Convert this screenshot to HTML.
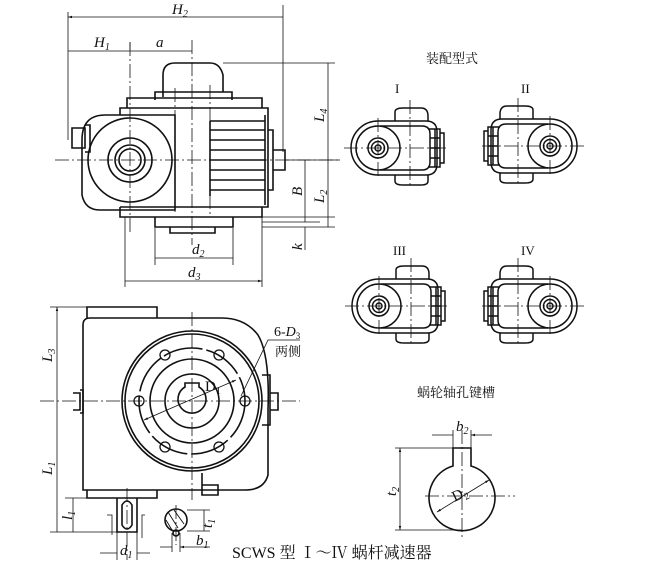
<!DOCTYPE html>
<html><head><meta charset="utf-8"><style>
html,body{margin:0;padding:0;background:#fff}
svg{display:block}
text{font-family:"Liberation Serif","Noto Serif CJK SC",serif;fill:#111}
.it{font-style:italic}
</style></head><body>
<svg width="646" height="574" viewBox="0 0 646 574" xmlns="http://www.w3.org/2000/svg">
<defs>
<marker id="a" viewBox="0 0 10 10" refX="10" refY="5" markerWidth="7" markerHeight="5" orient="auto-start-reverse"><path d="M0,2 L10,5 L0,8z" fill="#111"/></marker>
<g id="mini" fill="none" stroke="#111" stroke-width="1.5">
 <path d="M0,-27 H48 Q59,-27 59,-16 V16 Q59,27 48,27 H0 A27,27 0 0 1 0,-27z"/>
 <path d="M2,-22 H44 Q52,-22 52,-14 V14 Q52,22 44,22 H2"/>
 <circle r="22"/><circle r="10"/><circle r="6.5"/><circle r="3"/>
 <path d="M17,-27 V-36 Q17,-40 25,-40 H43 Q50,-40 50,-32 V-27"/>
 <path d="M17,27 V33 Q17,37 25,37 H43 Q50,37 50,33 V27"/>
 <path d="M50,-19 H62 V19 H50 M52,-10 H62 M52,0 H62 M52,10 H62 M57,-19 V19 M62,-15 H66 V15 H62"/>
 <path d="M-34,0 H70 M32,-48 V40 M0,-30 V30" stroke-width="0.8" stroke-dasharray="14,3,2,3"/>
</g>
</defs>
<g fill="none" stroke="#111" stroke-width="1.6">
<!-- top view -->
<path d="M163,97 V75 Q163,63 175,63 H210 Q220,63 223,75 V92 M155,100 V92 H232 V100 M127,108 V98 H262 V108 M120,115 V108 H268 V207 H120 M82,140 Q82,115 105,115 H175 V210 H100 Q85,210 82,195z"/>
<circle cx="130" cy="160" r="42"/><circle cx="130" cy="160" r="22"/><circle cx="130" cy="160" r="15"/><circle cx="130" cy="160" r="11"/>
<path d="M210,121 H265 M210,130 H265 M210,140 H265 M210,150 H265 M210,160 H265 M210,170 H265 M210,180 H265 M210,190 H265 M210,121 V196 M265,115 V205 M268,130 H273 V190 H268"/>
<path d="M273,150 H285 V170 H273 M72,128 H85 V148 H72z M85,125 H90 V152 H85"/>
<path d="M120,207 V217 H262 V207 M155,217 V227 H233 V217 M170,227 V233 H215 V227"/>
<path d="M55,160 H340 M130,42 V232 M192,40 V245 M175,88 V215 M210,85 V215" stroke-width="0.8" stroke-dasharray="14,3,2,3"/>
<path d="M68,12 V140 M283,5 V152 M130,42 V50 M223,63 H335 M285,160 H340 M262,217 H335 M262,222 H320 M262,227 H335 M155,228 V265 M233,228 V265 M125,217 V287 M262,217 V287" stroke-width="0.8"/>
<path d="M68,17 H283 M68,51 H130 M130,51 H192 M328,63 V160 M328,160 V227 M305,160 V222 M305,250 V227 M155,258 H233 M125,281 H262" stroke-width="0.8" marker-start="url(#a)" marker-end="url(#a)"/>
<!-- bottom view -->
<path d="M87,318 V307 H157 V318 M83,325 Q83,318 90,318 H222 Q245,318 258,335 Q270,355 268,410 V475 Q264,490 245,490 H83z M87,490 V498 H157 V490"/>
<circle cx="192" cy="401" r="70"/><circle cx="192" cy="401" r="67"/><circle cx="192" cy="401" r="53" stroke-dasharray="40,4"/><circle cx="192" cy="401" r="42"/><circle cx="192" cy="401" r="27"/>
<path d="M185,387 A14,14 0 1 0 199,387 V383 H185z"/>
<g stroke-width="1.3"><circle cx="139" cy="401" r="5"/><circle cx="245" cy="401" r="5"/><circle cx="165" cy="355" r="5"/><circle cx="219" cy="355" r="5"/><circle cx="165" cy="447" r="5"/><circle cx="219" cy="447" r="5"/></g>
<path d="M262,375 H270 V425 H262 M270,393 H278 V410 H270 M73,393 H80 V410 H73 M80,390 H83 V413 H80 M202,473 V485 M202,485 H218 V495 H202z"/>
<path d="M117,498 V532 H137 V498 M122,505 Q127,497 132,505 V525 Q127,533 122,525z"/>
<circle cx="176" cy="520" r="11"/><circle cx="176" cy="533" r="3"/>
<path d="M168,512 L178,528 M174,510 L184,524 M166,520 L172,530" stroke-width="0.9"/>
<path d="M40,401 H300 M192,312 V500 M127,488 V560 M176,505 V545" stroke-width="0.8" stroke-dasharray="14,3,2,3"/>
<path d="M50,307 H87 M50,532 H117 M65,498 H117 M187,510 H210 M187,531 H210 M117,532 V560 M137,532 V560 M172,533 V552 M180,533 V552 M107,515 H112 V535 M145,515 H142 V538 M241,396 L268,340 H300" stroke-width="0.8"/>
<path d="M57,307 V401 M57,401 V532 M73,498 V532 M204,510 V531 M100,553 H117 M150,553 H137 M160,547 H172 M210,547 H180" stroke-width="0.8" marker-start="url(#a)" marker-end="url(#a)"/>
<path d="M144,420 L236,380" stroke-width="0.8" marker-start="url(#a)" marker-end="url(#a)"/>
<!-- keyway -->
<path d="M453,448 V466 A33,33 0 1 0 471,466 V448z"/>
<path d="M425,496 H515 M462,430 V540" stroke-width="0.8" stroke-dasharray="14,3,2,3"/>
<path d="M395,448 H453 M395,530 H462 M453,430 V448 M471,430 V448" stroke-width="0.8"/>
<path d="M400,448 V530" stroke-width="0.8" marker-start="url(#a)" marker-end="url(#a)"/>
<path d="M432,435 H453 M492,435 H471" stroke-width="0.8" marker-end="url(#a)"/>
<path d="M437,512 L489,480" stroke-width="0.8" marker-start="url(#a)" marker-end="url(#a)"/>
</g>
<use href="#mini" x="378" y="148"/>
<use href="#mini" transform="translate(550,146) scale(-1,1)"/>
<use href="#mini" x="379" y="306"/>
<use href="#mini" transform="translate(550,306) scale(-1,1)"/>
<g font-size="15">
<text x="172" y="14" class="it">H<tspan font-size="10" dy="3">2</tspan></text>
<text x="94" y="47" class="it">H<tspan font-size="10" dy="3">1</tspan></text>
<text x="156" y="47" class="it">a</text>
<text x="192" y="254" class="it">d<tspan font-size="10" dy="3">2</tspan></text>
<text x="188" y="277" class="it">d<tspan font-size="10" dy="3">3</tspan></text>
<text transform="translate(324,122) rotate(-90)" class="it">L<tspan font-size="10" dy="3">4</tspan></text>
<text transform="translate(324,203) rotate(-90)" class="it">L<tspan font-size="10" dy="3">2</tspan></text>
<text transform="translate(302,196) rotate(-90)" class="it">B</text>
<text transform="translate(302,250) rotate(-90)" class="it">k</text>
<text transform="translate(52,362) rotate(-90)" class="it">L<tspan font-size="10" dy="3">3</tspan></text>
<text transform="translate(52,475) rotate(-90)" class="it">L<tspan font-size="10" dy="3">1</tspan></text>
<text transform="translate(72,520) rotate(-90)" class="it">l<tspan font-size="10" dy="3">1</tspan></text>
<text transform="translate(212,528) rotate(-90)" class="it">t<tspan font-size="10" dy="3">1</tspan></text>
<text x="120" y="555" class="it">d<tspan font-size="10" dy="3">1</tspan></text>
<text x="196" y="545" class="it">b<tspan font-size="10" dy="3">1</tspan></text>
<text x="205" y="391">D<tspan font-size="10" dy="3">1</tspan></text>
<text x="274" y="336" font-size="14">6-<tspan class="it">D</tspan><tspan font-size="9" dy="3">3</tspan></text>
<text x="275" y="356" font-size="13" font-family="Noto Sans CJK SC,sans-serif">两侧</text>
<text x="456" y="431" class="it">b<tspan font-size="10" dy="3">2</tspan></text>
<text transform="translate(396,496) rotate(-90)" class="it">t<tspan font-size="10" dy="3">2</tspan></text>
<text x="452" y="498" transform="rotate(-25 462 494)">D<tspan font-size="10" dy="3">2</tspan></text>
<text x="426" y="63" font-size="13" font-family="Noto Sans CJK SC,sans-serif">装配型式</text>
<text x="395" y="93" font-size="13">I</text>
<text x="521" y="93" font-size="13">II</text>
<text x="393" y="255" font-size="13">III</text>
<text x="521" y="255" font-size="13">IV</text>
<text x="417" y="397" font-size="13" font-family="Noto Sans CJK SC,sans-serif">蜗轮轴孔键槽</text>
<text x="232" y="558" font-size="16">SCWS 型 Ⅰ～Ⅳ 蜗杆减速器</text>
</g>
</svg>
</body></html>
